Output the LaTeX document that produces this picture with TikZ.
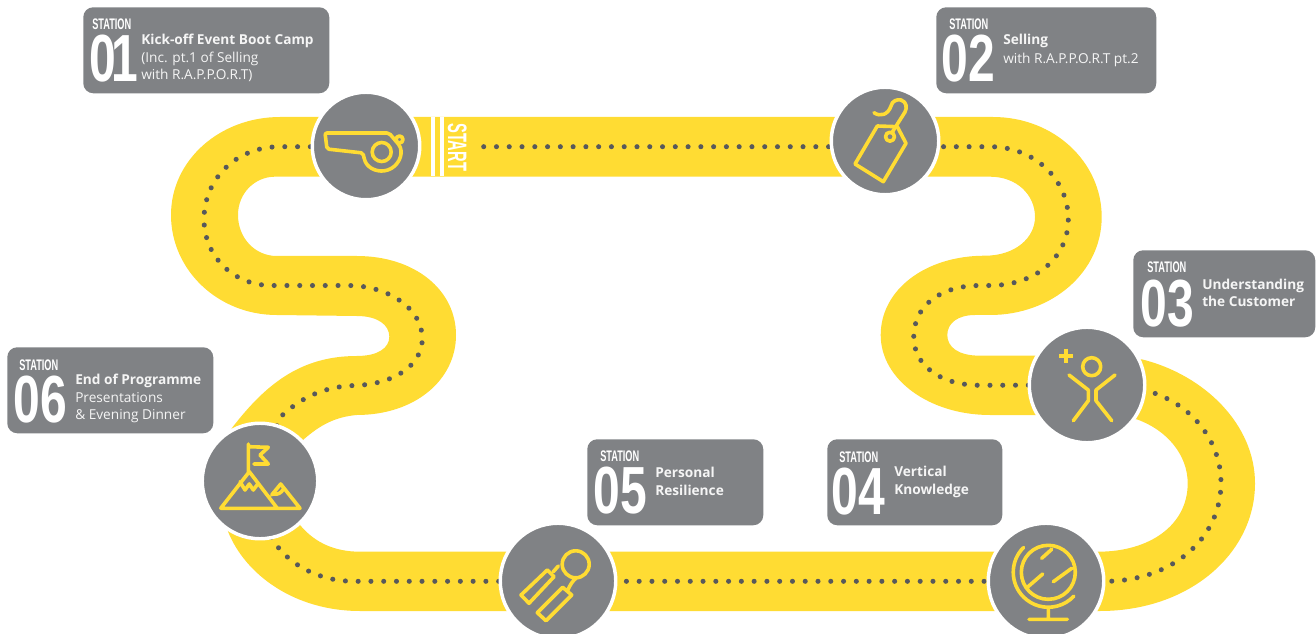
\documentclass[tikz,border=0pt]{standalone}
\usepackage{fontspec}
\setmainfont{Open Sans}
\newfontfamily\stationfont[FakeStretch=.6]{Liberation Sans}
\newfontfamily\numberfont[FakeStretch=.72]{Liberation Sans}
\newfontfamily\startfont[FakeStretch=.55]{Liberation Sans}
\definecolor{roadyellow}{HTML}{FFDC33}
\definecolor{stationgray}{HTML}{808285}
\definecolor{dotgray}{HTML}{58595B}
\tikzset{
  dotline/.style={draw=dotgray,line width=3.8pt,dash pattern=on 0pt off 9.58pt},
  stationbox/.style={fill=stationgray,rounded corners=7.5pt,anchor=north west,inner sep=0pt},
  stationdot/.style={circle,fill=stationgray,draw=white,line width=2.6pt,inner sep=0pt},
  stationnum/.style={anchor=base west,inner sep=0pt,text=white,font=\numberfont\bfseries\fontsize{50}{50}\selectfont},
  stationtag/.style={anchor=base west,inner sep=0pt,text=white,font=\stationfont\bfseries\fontsize{11.5}{12}\selectfont},
  stationtext/.style={anchor=north west,inner sep=0pt,align=left,text=white!92!stationgray,font=\fontsize{10.25}{13.1}\selectfont},
  icon/.style={draw=roadyellow,line width=2.7pt}
}
\begin{document}
\begin{tikzpicture}[x=.75pt,y=-.75pt,line cap=round,line join=round]
\clip (0,0) rectangle (1316,634);
\fill[roadyellow,even odd rule] (280,117)--(993,117) .. controls (1054,117) and (1101.7,162) .. (1101.7,217) .. controls (1101.7,272) and (1052,315) .. (990,315)--(975,315) .. controls (958,315) and (947.3,323) .. (947.3,335) .. controls (947.3,347) and (958,355.7) .. (980,355.7)--(1035.7,355.7)--(1141.7,359.3) .. controls (1205,375) and (1255,425) .. (1255,483.3) .. controls (1255,553) and (1190,611) .. (1100,611)--(360,611) .. controls (295,611) and (245,575) .. (227.7,530.7)--(231.7,428.3) .. controls (265,385) and (300,356) .. (356.7,356) .. controls (378,356) and (389.3,348) .. (389.3,336.7) .. controls (389.3,325) and (378,316) .. (356.7,316)--(276.7,315) .. controls (218,315) and (171,270) .. (171,215) .. controls (171,160) and (220,117) .. (280,117)--cycle
  (275,176.7)--(990,176.7) .. controls (1017,176.7) and (1035,195) .. (1035,217) .. controls (1035,238) and (1015,255.7) .. (985,255.7) .. controls (925,255.7) and (880.7,290) .. (880.7,335) .. controls (880.7,380) and (930,415) .. (990,415)--(1035.7,415)--(1136.7,419.3) .. controls (1167,430) and (1187.7,455) .. (1187.7,483.3) .. controls (1187.7,525) and (1150,551.7) .. (1098,551.7)--(360,551.7) .. controls (335,551.7) and (315,543) .. (300,525)--(303,440) .. controls (320,425) and (335,417) .. (356.7,415) .. controls (415,415) and (456,380) .. (456,335) .. controls (456,290) and (415,256) .. (356.7,256)--(276.7,256) .. controls (255,256) and (238,238) .. (238,215) .. controls (238,193) and (255,176.7) .. (275,176.7)--cycle;
\draw[dotline] (483.7,146.7)--(990,146.7) .. controls (1035,146.7) and (1068.3,180) .. (1068.3,219) .. controls (1068.3,258) and (1035,285.5) .. (990,285.5)--(980,285.5) .. controls (940,285.5) and (913.7,306) .. (913.7,337) .. controls (913.7,365) and (940,385.3) .. (980,385.3)--(1087,385)--(1140,389) .. controls (1190,400) and (1221,440) .. (1221,482.7) .. controls (1221,540) and (1170,581.3) .. (1105,581.3)--(353.7,581.3) .. controls (315,581.3) and (280,560) .. (268,530)--(262,470)--(279.7,417.7) .. controls (297,401) and (320,386.5) .. (355,385.5) .. controls (395,384) and (422.3,365) .. (422.3,338.3) .. controls (422.3,310) and (390,285.5) .. (348,285.5)--(272,285.5) .. controls (232,285.5) and (204,255) .. (204,219.3) .. controls (204,180) and (235,146.7) .. (280,146.7)--(312,146.7);
\draw[white,line width=2.7pt,line cap=butt] (433.2,116.7)--(433.2,175.7) (442.2,116.7)--(442.2,175.7);
\node[rotate=-90,text=white,inner sep=0pt,font=\startfont\bfseries\fontsize{20}{20}\selectfont] (start) at (457.2,147.2) {START};
\foreach \n/\x/\y/\w/\h in {01/83/7/246/86,02/936/7/220/86,03/1133/250/182/87,04/827/439/175/86,05/587/439/176/86,06/7/347/206/86}
  \node[stationbox,minimum width=\w*.75pt,minimum height=\h*.75pt] (box\n) at (\x,\y) {};
\foreach \n/\d/\ax/\ay/\bx/\by in {01/{0\kern-4pt 1}/89.5/82/92/30,02/02/941.5/82/949/30,03/03/1140.5/326/1147/273,04/04/831.5/514/839/462,05/05/593.5/513/600/461,06/06/13.5/422/19/370}{
  \node[stationnum] (num\n) at (\ax,\ay) {\d};
  \node[stationtag] (tag\n) at (\bx,\by) {STATION};
}
\node[stationtext] (text01) at (141,34) {\textbf{Kick-off Event Boot Camp}\\(Inc. pt.1 of Selling\\with R.A.P.P.O.R.T)};
\node[stationtext] (text02) at (1003,34) {\textbf{Selling}\\[1.1pt]with R.A.P.P.O.R.T pt.2};
\node[stationtext] (text03) at (1202,278.5) {\textbf{Understanding}\\\textbf{the Customer}};
\node[stationtext] (text04) at (894,466) {\textbf{Vertical}\\\textbf{Knowledge}};
\node[stationtext] (text05) at (655,467) {\textbf{Personal}\\\textbf{Resilience}};
\node[stationtext] (text06) at (75,374) {\textbf{End of Programme}\\Presentations\\\& Evening Dinner};
\foreach \n/\x/\y/\r in {01/366/146/52,02/885/141/52,03/1087/385/56,04/1046/581/56,05/558/581/56,06/260/481/56}
  \node[stationdot,minimum size=(2*\r+3.5)*.75pt] (stop\n) at (\x,\y) {};
\draw[icon,rounded corners=1.5pt] (325,133)--(389,133)--(399.6,145.5) arc[start angle=-20,end angle=155,radius=19]--(363,153)--(327,149)--cycle;
\draw[icon] (381.7,152) circle[radius=9.5] (399.5,139.5) circle[radius=3.5];
\draw[icon] (877.3,126)--(897.3,126.7)--(906,143.3)--(883.3,181.7)--(855,164)--cycle (890,136.7) circle[radius=4.5];
\draw[icon] (874,112.7) .. controls (880,117) and (888,115) .. (891,106) .. controls (892,101) and (897,99) .. (901,100) .. controls (907,102) and (907,108) .. (905,112)--(891.7,133);
\draw[icon,line width=3pt,line cap=butt] (1059,355.7)--(1073.3,355.7) (1066,348.7)--(1066,362.7);
\draw[icon] (1091.7,366.7) circle[radius=9] (1069,375)--(1088.3,390)--(1088.3,400.7)--(1073.3,420.7) (1115,375)--(1096,390)--(1096,400.7)--(1111.7,420.7);
\draw[icon] (1048.3,572.3) circle[radius=27] (1023.5,547.5) arc[start angle=225,end angle=43,radius=35] (1048.3,608.3)--(1048.3,619.3) (1029,619.3)--(1067.3,619.3) (1041.7,558.3)--(1051.7,549.3) (1027.3,587.3)--(1042.7,574) (1053.3,581.7)--(1071.7,568.3);
\draw[icon] (575.7,564.3) circle[radius=13.5] (521,595)--(547.3,570)--(554,576.7)--(529,603.3)--cycle (537.3,612.7)--(562.7,587.3)--(571.7,595)--(546,620.7)--cycle (553.3,571.7)--(558.3,566) (567.3,591) .. controls (570,585) and (573,580) .. (577,577.5);
\draw[icon] (248.3,444)--(248.3,471.7) (248.3,446.7)--(268.3,447.3)--(260,455)--(268.3,464)--(254,464) (220.7,508.3)--(249.3,471.7)--(277.3,508.3) (220.7,508.3)--(300,508.3)--(280.7,484)--(271.7,495) (240,481.7)--(245,490)--(249.3,484)--(253.3,490)--(258.3,483.3) (273,494) .. controls (278,495) and (281,493) .. (283.5,489);
\end{tikzpicture}
\end{document}
